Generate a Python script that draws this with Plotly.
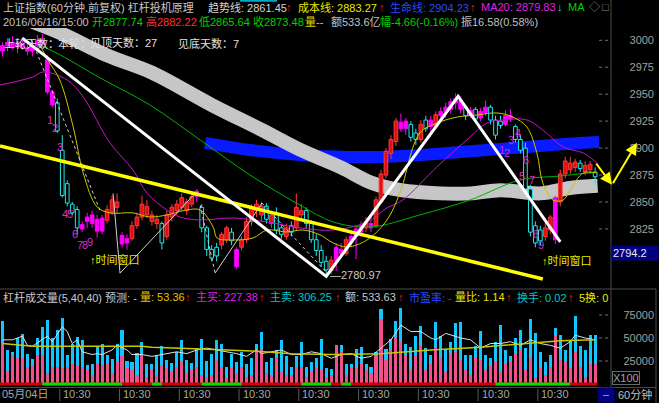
import plotly.graph_objects as go

W, H = 659, 403
FONT = "Liberation Sans, Noto Sans CJK SC, sans-serif"

# ---------------- DATA (60-minute bars) ----------------
bar_open = [2990, 2995, 2998, 2994, 2997, 2993, 2990, 2995, 3000, 2982,
            2952, 2942, 2898, 2867, 2848, 2843, 2829, 2832, 2838, 2834,
            2823, 2833, 2840, 2845, 2819, 2812, 2816, 2828, 2836, 2838,
            2832, 2830, 2830, 2818, 2836, 2842, 2845, 2842, 2848, 2855,
            2845, 2826, 2806, 2808, 2810, 2815, 2822, 2806, 2808, 2815,
            2832, 2842, 2838, 2846, 2830, 2840, 2826, 2818, 2828, 2826,
            2838, 2842, 2830, 2815, 2805, 2795, 2786, 2795, 2806, 2802,
            2812, 2818, 2822, 2826, 2830, 2828, 2850, 2875, 2895, 2906,
            2924, 2918, 2922, 2914, 2908, 2926, 2920, 2920, 2930, 2934,
            2936, 2942, 2944, 2938, 2930, 2936, 2928, 2933, 2938, 2926,
            2925, 2922, 2930, 2920, 2908, 2900, 2862, 2828, 2824, 2818,
            2824, 2815, 2850, 2876, 2880, 2882, 2886, 2878, 2880, 2877.74]
bar_high = [2998, 3002, 3004, 3000, 3003, 2999, 2997, 3005, 3006, 2986,
            2954, 2946, 2912, 2870, 2850, 2846, 2832, 2840, 2842, 2838,
            2838, 2847, 2856, 2858, 2822, 2820, 2832, 2840, 2856, 2852,
            2842, 2838, 2832, 2842, 2848, 2852, 2858, 2853, 2858, 2862,
            2848, 2828, 2810, 2812, 2822, 2828, 2826, 2808, 2818, 2836,
            2848, 2852, 2850, 2849, 2842, 2845, 2830, 2830, 2832, 2858,
            2848, 2845, 2833, 2820, 2810, 2800, 2800, 2812, 2812, 2818,
            2822, 2828, 2832, 2836, 2838, 2855, 2880, 2900, 2912, 2928,
            2932, 2928, 2925, 2918, 2926, 2930, 2930, 2934, 2938, 2942,
            2946, 2951, 2948, 2940, 2938, 2938, 2937, 2944, 2940, 2930,
            2930, 2935, 2936, 2922, 2912, 2905, 2866, 2832, 2828, 2832,
            2838, 2856, 2880, 2892, 2892, 2890, 2889, 2888, 2888, 2882.22]
bar_low = [2985, 2990, 2992, 2988, 2991, 2986, 2985, 2990, 2994, 2950,
           2938, 2914, 2854, 2846, 2838, 2820, 2822, 2826, 2826, 2817,
           2820, 2830, 2838, 2840, 2808, 2806, 2814, 2825, 2833, 2835,
           2828, 2825, 2806, 2815, 2832, 2838, 2842, 2838, 2845, 2850,
           2822, 2800, 2795, 2795, 2806, 2812, 2810, 2788, 2805, 2812,
           2828, 2836, 2832, 2830, 2826, 2820, 2816, 2815, 2818, 2824,
           2834, 2826, 2812, 2800, 2790, 2780.97, 2783, 2786, 2798, 2800,
           2808, 2797, 2818, 2822, 2822, 2826, 2848, 2872, 2890, 2902,
           2915, 2912, 2906, 2903, 2905, 2915, 2916, 2918, 2926, 2928,
           2932, 2936, 2932, 2926, 2928, 2924, 2925, 2930, 2922, 2908,
           2918, 2920, 2924, 2905, 2895, 2858, 2818, 2808, 2810, 2814,
           2820, 2811, 2846, 2872, 2876, 2878, 2878, 2875, 2876, 2865.64]
bar_close = [2995, 2998, 2994, 2997, 2993, 2990, 2995, 3000, 2996, 2952,
             2940, 2916, 2856, 2849, 2840, 2826, 2825, 2836, 2830, 2823,
             2835, 2843, 2852, 2850, 2811, 2816, 2828, 2836, 2848, 2846,
             2838, 2834, 2812, 2838, 2845, 2848, 2854, 2850, 2855, 2860,
             2826, 2806, 2798, 2800, 2820, 2826, 2814, 2790, 2815, 2832,
             2845, 2848, 2846, 2834, 2838, 2824, 2820, 2826, 2822, 2845,
             2842, 2830, 2815, 2805, 2794, 2787, 2796, 2808, 2802, 2815,
             2818, 2825, 2828, 2832, 2826, 2852, 2876, 2897, 2908, 2925,
             2918, 2925, 2910, 2908, 2922, 2918, 2926, 2931, 2934, 2938,
             2943, 2946, 2936, 2930, 2935, 2927, 2934, 2938, 2926, 2912,
             2921, 2930, 2927, 2908, 2898, 2862, 2822, 2812, 2814, 2826,
             2836, 2854, 2876, 2888, 2886, 2887, 2881, 2884, 2885, 2873.48]
magenta_bars = [0, 1, 2, 3, 4, 5, 6, 7, 8, 9, 10, 16, 17, 18, 19, 20, 24, 25, 39, 47,
                67, 68, 70, 71, 72, 74, 80, 81, 86, 88, 89, 90, 91, 92, 94, 96, 97,
                101, 102, 111]

# volume (thousands, x100 shares): total and active-buy part
vol_total_k = [68, 37, 35, 50, 54, 33, 27, 50, 62, 70, 50, 59, 72, 31, 44, 51, 48, 21, 22, 41,
               44, 31, 27, 44, 59, 25, 24, 34, 46, 22, 22, 30, 41, 26, 23, 35, 48, 26, 23, 39,
               49, 25, 33, 48, 44, 19, 33, 24, 35, 22, 28, 44, 56, 24, 28, 37, 48, 30, 18, 30,
               46, 19, 24, 28, 49, 17, 16, 42, 42, 22, 22, 38, 40, 22, 18, 35, 81, 38, 49, 69,
               83, 44, 40, 52, 63, 39, 32, 67, 52, 38, 46, 66, 67, 32, 32, 41, 58, 32, 28, 46,
               64, 37, 30, 50, 59, 39, 71, 55, 35, 24, 32, 61, 53, 37, 48, 74, 41, 37, 53, 53]
vol_buy_k = [44, 13, 31, 28, 28, 19, 21, 31, 31, 12, 19, 19, 17, 19, 22, 20, 19, 15, 10, 22,
             21, 22, 12, 24, 30, 17, 15, 10, 31, 8, 15, 10, 21, 17, 13, 19, 24, 12, 15, 19,
             10, 8, 10, 26, 19, 6, 17, 12, 19, 8, 10, 37, 37, 12, 10, 28, 13, 10, 10, 19,
             19, 8, 13, 17, 15, 8, 10, 41, 35, 10, 17, 17, 22, 15, 12, 30, 71, 26, 37, 50,
             46, 30, 15, 32, 42, 15, 22, 39, 28, 13, 33, 35, 26, 15, 10, 28, 26, 15, 20, 24,
             13, 22, 24, 33, 37, 15, 28, 6, 17, 10, 19, 52, 26, 24, 17, 35, 19, 8, 22, 22]
vol_ma5_x = [0, 2, 4, 5, 6, 8, 9, 10, 12, 13, 14, 15, 16, 18, 19, 20, 22, 23, 25, 26,
             28, 30, 32, 33, 35, 37, 39, 41, 43, 45, 47, 49, 51, 52, 54, 56, 58, 60, 62, 64,
             66, 68, 70, 72, 74, 76, 78, 80, 82, 84, 86, 87, 89, 92, 94, 96, 98, 100, 102, 104,
             106, 108, 110, 112, 114, 115, 117, 119]
vol_ma5_k = [48, 48, 52, 42, 41, 48, 52, 46, 62, 57, 44, 48, 35, 32, 33, 32, 37, 42, 37, 32,
             32, 30, 32, 33, 35, 33, 37, 39, 37, 35, 33, 30, 37, 33, 35, 37, 32, 32, 35, 33,
             28, 32, 33, 28, 30, 39, 48, 64, 57, 57, 50, 48, 55, 50, 48, 39, 44, 44, 46, 42,
             48, 44, 42, 39, 46, 53, 50, 48]
vol_ma40_x = [0, 6, 28, 30, 40, 50, 58, 66, 76, 86, 96, 106, 112, 119]
vol_ma40_k = [44, 41, 41, 40, 38, 36, 33, 32, 33, 37, 40, 44, 47, 48]
signal_green_spans = [[8, 24], [30, 32], [40, 48], [60, 66], [68, 70], [99, 114]]

# indicator lines (bar index, price)
trend_x = [5, 12, 21, 30, 42, 52, 60, 68, 74, 80, 88, 94, 100, 108, 114, 119.5]
trend_y = [3019, 3006, 2986, 2970, 2940, 2917, 2898, 2882, 2868, 2861, 2858, 2858, 2861, 2858, 2863, 2865]
life_x = [40.7, 49.7, 59.7, 69.8, 75.8, 83.8, 91.9, 99.9, 107.9, 116.0, 119.8]
life_y = [2904.8, 2898.2, 2893.6, 2891.8, 2891.8, 2893.6, 2896.4, 2899.2, 2902.0, 2904.8, 2905.7]
ma_long_x = [7.5, 11.6, 19.6, 29.6, 39.7, 49.7, 59.7, 66.4, 73.8, 83.8, 93.9, 103.9, 111.9, 119.4]
ma_long_y = [2995.6, 2986.4, 2965.1, 2940.0, 2907.5, 2875.0, 2847.2, 2831.5, 2826.8, 2838.0, 2851.9, 2870.4, 2874.1, 2877.8]
ma20_x = [-0.5, 6.1, 8.1, 13.0, 16.2, 21.6, 26.2, 29.0, 33.0, 35.6, 39.7, 46.3, 53.1, 59.7,
          66.4, 73.2, 77.2, 80.4, 87.2, 93.9, 97.3, 100.5, 105.3, 108.5, 112.6, 116.6, 119.4]
ma20_y = [2958.5, 2966.0, 2970.6, 2963.2, 2947.4, 2904.7, 2879.7, 2858.3, 2842.6, 2836.1, 2833.3,
          2835.2, 2831.5, 2826.0, 2824.0, 2831.5, 2844.5, 2851.9, 2882.5, 2910.3, 2923.3, 2926.1,
          2926.1, 2916.8, 2901.0, 2895.5, 2886.0]
ma_short_x = [7.5, 9.5, 11.5, 14.2, 16.2, 19.0, 21.6, 26.2, 29.6, 33.0, 37.0, 39.7, 42.3, 43.1,
              46.3, 50.3, 53.1, 57.1, 60.3, 63.8, 66.4, 69.2, 73.2, 77.2, 79.8, 83.8, 87.3, 91.3,
              95.3, 99.3, 102.5, 105.3, 107.3, 108.5, 110.5, 112.6, 114.0, 116.6, 119.4]
ma_short_y = [2995.6, 2978.9, 2963.2, 2919.6, 2876.9, 2845.4, 2839.9, 2839.9, 2836.1, 2838.0,
              2842.6, 2842.6, 2826.8, 2816.6, 2814.8, 2816.6, 2824.0, 2822.2, 2824.0, 2819.4,
              2812.0, 2808.3, 2814.8, 2833.3, 2858.3, 2914.0, 2923.3, 2928.8, 2930.7, 2932.6,
              2928.8, 2919.6, 2895.5, 2867.6, 2851.9, 2851.9, 2861.1, 2876.9, 2876.9]
zig_x = [4, 65, 91.5, 112]
zig_y = [3002, 2780.97, 2948, 2813]
thin_up_x = [22.2, 23.6, 38.7, None, 42.7, 52.1]
thin_up_y = [2858, 2784, 2858, None, 2784, 2849]
thin_down_x = [5.9, 19.6, None, 39.7, 42.7, None, 52.1, 65.2]
thin_down_y = [3000, 2842, None, 2847, 2784, None, 2849, 2784]
channel_x = [-0.5, 108.5]
channel_y = [2902, 2778.6]
proj_x = [119, 122.4, 127.4]
proj_y = [2887, 2866, 2905]
td_left_x = [9.5, 10.5, 11.5, 12.6, 13.6, 14.6, 15.6, 16.6, 17.6]
td_left_y = [2926, 2918.6, 2901, 2839, 2839, 2820.3, 2810.1, 2810.1, 2812.9]
td_right_x = [100.2, 101.3, 102.2, 103.5, 104.3, 105.1, 106.3, 107.1, 108.2]
td_right_y = [2898.2, 2895.1, 2907.5, 2914.3, 2874.1, 2889.0, 2870.4, 2820.7, 2810.1]
td_text = ["1", "2", "3", "4", "5", "6", "7", "8", "9"]

price_ticks = [3000, 2975, 2950, 2925, 2900, 2875, 2850, 2825]
vol_ticks = [25000, 50000, 75000]
date_tick_bars = [12, 24, 36, 48, 60, 72, 84, 96, 108]
date_tick_labels = ["10:30"] * 9
first_date_label = "05月04日"

# ---------------- geometry helpers ----------------
BAR_PX, X0 = 4.98, 2.5
x_range = [(0 - X0) / BAR_PX, (W - X0) / BAR_PX]
P_REF, P_REF_PX, PX_PER_PT = 3000, 40.3, 1.078
PRICE_TOP_PX, PRICE_BOT_PX = 28, 288
price_range = [P_REF - (PRICE_BOT_PX - P_REF_PX) / PX_PER_PT, P_REF + (P_REF_PX - PRICE_TOP_PX) / PX_PER_PT]
VOL_ZERO_PX, VOL_TOP_PX, VOL_BOT_PX, VOL_PX_PER_25K = 384, 300, 387, 23.0
vol_range = [-(VOL_BOT_PX - VOL_ZERO_PX) / VOL_PX_PER_25K * 25000, (VOL_ZERO_PX - VOL_TOP_PX) / VOL_PX_PER_25K * 25000]


def pyp(p):
    return 1 - p / H


n = len(bar_open)
idx = list(range(n))
MAG, RED_F, RED_L, CYAN = "#ff00ff", "#e01010", "#ff3a3a", "#20e8e8"

fig = go.Figure()

# bands (base subplot, under the candles); gray trend band over the blue life band
fig.add_trace(go.Scatter(x=life_x, y=life_y, mode="lines", line=dict(color="#0a1aff", width=12, shape="spline"),
                         xaxis="x", yaxis="y"))
fig.add_trace(go.Scatter(x=trend_x, y=trend_y, mode="lines", line=dict(color="#c6c6c6", width=14, shape="spline"),
                         xaxis="x", yaxis="y"))

# candles (overlay subplot)
fills, lines_c, bases, heights = [], [], [], []
groups = {"m": [], "r": [], "c": []}
for i in idx:
    o, c = bar_open[i], bar_close[i]
    if i in magenta_bars:
        f, l, g = MAG, MAG, "m"
    elif c >= o:
        f, l, g = RED_F, RED_L, "r"
    else:
        f, l, g = "#000000", CYAN, "c"
    fills.append(f)
    lines_c.append(l)
    groups[g].append(i)
    bases.append(min(o, c))
    heights.append(max(abs(c - o), 0.8))

for g, col in (("m", MAG), ("r", RED_L), ("c", CYAN)):
    xs, ys = [], []
    for i in groups[g]:
        top, bot = max(bar_open[i], bar_close[i]), min(bar_open[i], bar_close[i])
        xs += [i, i, None, i, i, None]
        ys += [bar_high[i], top, None, bot, bar_low[i], None]
    fig.add_trace(go.Scatter(x=xs, y=ys, mode="lines", line=dict(color=col, width=1), xaxis="x", yaxis="y3"))

fig.add_trace(go.Bar(x=idx, y=heights, base=bases, width=0.74, xaxis="x", yaxis="y3",
                     marker=dict(color=fills, line=dict(color=lines_c, width=1))))

# thin indicator lines
fig.add_trace(go.Scatter(x=ma_long_x, y=ma_long_y, mode="lines", line=dict(color="#00b400", width=1, shape="spline"), yaxis="y3"))
fig.add_trace(go.Scatter(x=ma20_x, y=ma20_y, mode="lines", line=dict(color="#c814c8", width=1, shape="spline"), yaxis="y3"))
fig.add_trace(go.Scatter(x=ma_short_x, y=ma_short_y, mode="lines", line=dict(color="#c8c800", width=1, shape="spline"), yaxis="y3"))
fig.add_trace(go.Scatter(x=thin_up_x, y=thin_up_y, mode="lines", line=dict(color="#d0d0d0", width=1), yaxis="y3"))
fig.add_trace(go.Scatter(x=thin_down_x, y=thin_down_y, mode="lines", line=dict(color="#d0d0d0", width=1, dash="dot"), yaxis="y3"))
# channel and zigzag
fig.add_trace(go.Scatter(x=channel_x, y=channel_y, mode="lines", line=dict(color="#ffff00", width=3.5), yaxis="y3"))
fig.add_trace(go.Scatter(x=zig_x, y=zig_y, mode="lines", line=dict(color="#ffffff", width=3), yaxis="y3"))

# dotted tick leaders at right of the price panel
dx, dy = [], []
for t in price_ticks:
    dx += [119.8, 122.1, None]
    dy += [t, t, None]
fig.add_trace(go.Scatter(x=dx, y=dy, mode="lines", line=dict(color="#707070", width=1, dash="dot"), yaxis="y3"))

# volume
vol_total = [v * 1000 for v in vol_total_k]
vol_buy = [v * 1000 for v in vol_buy_k]
fig.add_trace(go.Bar(x=idx, y=vol_total, width=0.62, marker=dict(color="#12c4ff", line=dict(width=0)), xaxis="x", yaxis="y2"))
fig.add_trace(go.Bar(x=idx, y=vol_buy, width=0.62, marker=dict(color="#f0508c", line=dict(width=0)), xaxis="x", yaxis="y2"))
fig.add_trace(go.Scatter(x=vol_ma5_x, y=[v * 1000 for v in vol_ma5_k], mode="lines",
                         line=dict(color="#e0e0e0", width=1), xaxis="x", yaxis="y2"))
fig.add_trace(go.Scatter(x=vol_ma40_x, y=[v * 1000 for v in vol_ma40_k], mode="lines",
                         line=dict(color="#c8c800", width=1.5), xaxis="x", yaxis="y2"))
fig.add_trace(go.Scatter(x=[-0.5, 119.5], y=[0, 0], mode="lines", line=dict(color="#d00000", width=3), xaxis="x", yaxis="y2"))
gx, gy = [], []
for a, b in signal_green_spans:
    gx += [a, b, None]
    gy += [0, 0, None]
fig.add_trace(go.Scatter(x=gx, y=gy, mode="lines", line=dict(color="#00e000", width=3), xaxis="x", yaxis="y2"))
vx, vy = [], []
for t in vol_ticks:
    vx += [119.8, 122.1, None]
    vy += [t, t, None]
fig.add_trace(go.Scatter(x=vx, y=vy, mode="lines", line=dict(color="#707070", width=1, dash="dot"), xaxis="x", yaxis="y2"))

axfont = dict(color="#a0a0a0", size=11, family=FONT)
fig.update_layout(
    width=W, height=H, margin=dict(l=0, r=0, t=0, b=0),
    paper_bgcolor="#000000", plot_bgcolor="#000000", showlegend=False,
    barmode="overlay", bargap=0,
    xaxis=dict(domain=[0, 1], range=x_range, visible=False, anchor="y2", fixedrange=True),
    yaxis=dict(domain=[pyp(PRICE_BOT_PX), pyp(PRICE_TOP_PX)], range=price_range, side="right",
               tickvals=price_ticks, ticklabelposition="inside", ticks="", tickfont=axfont,
               ticklabelstandoff=2, showgrid=False, zeroline=False, showline=False, anchor="x"),
    yaxis3=dict(overlaying="y", range=price_range, visible=False, anchor="x"),
    yaxis2=dict(domain=[pyp(VOL_BOT_PX), pyp(VOL_TOP_PX)], range=vol_range, side="right",
                tickvals=vol_ticks, tickformat="d", ticklabelposition="inside", ticks="", tickfont=axfont,
                ticklabelstandoff=2, showgrid=False, zeroline=False, showline=False, anchor="x"),
)

# separators
SEP = "#4a4a4a"
shapes = [
    dict(type="line", xref="paper", yref="paper", x0=611 / W, x1=611 / W, y0=0, y1=1, line=dict(color=SEP, width=1)),
    dict(type="line", xref="paper", yref="paper", x0=656 / W, x1=656 / W, y0=0, y1=pyp(289), line=dict(color=SEP, width=1)),
    dict(type="line", xref="paper", yref="paper", x0=0, x1=656 / W, y0=pyp(289), y1=pyp(289), line=dict(color=SEP, width=1)),
    dict(type="line", xref="paper", yref="paper", x0=0, x1=656 / W, y0=pyp(387.5), y1=pyp(387.5), line=dict(color=SEP, width=1)),
    dict(type="line", xref="paper", yref="paper", x0=240 / W, x1=277 / W, y0=pyp(0.8), y1=pyp(0.8), line=dict(color="#00a8c8", width=2)),
]
for b in date_tick_bars:
    shapes.append(dict(type="line", xref="x", yref="paper", x0=b - 0.5, x1=b - 0.5, y0=pyp(389), y1=pyp(401),
                       line=dict(color="#5a5a5a", width=1)))
fig.update_layout(shapes=shapes)

ann = []


def txt(x, y, s, color, size=11, **kw):
    d = dict(x=x / W, y=pyp(y), xref="paper", yref="paper", text=s, showarrow=False,
             font=dict(color=color, size=size, family=FONT), xanchor="left", yanchor="middle")
    d.update(kw)
    ann.append(d)


UP = "#ff2020"
# header row 1
txt(1, 7, "上证指数(60分钟.前复权) 杠杆投机原理", "#c8c8c8")
txt(206, 7, "趋势线: 2861.45", "#d4d4d4")
txt(284, 7, "↑", UP)
txt(296, 7, "成本线: 2883.27", "#e8e800")
txt(377, 7, "↑", UP)
txt(388, 7, "生命线: 2904.23", "#2a4aff")
txt(468, 7, "↑", UP)
txt(479, 7, "MA20: 2879.83", "#e020e0")
txt(555, 7, "↓", "#00e0e0")
txt(566, 7, "MA", "#00d000")
txt(587, 7, "◇", "#8a8a8a")
txt(600, 7, "□", "#8a8a8a")
# header row 2
txt(1, 22, "2016/06/16/15:00", "#c0c0c0")
txt(90, 22, "开2877.74", "#00d000")
txt(144, 22, "高2882.22", "#ff3030")
txt(197, 22, "低2865.64", "#00d000")
txt(251, 22, "收2873.48", "#00d000")
txt(303, 22, "量--", "#d8d800")
txt(329, 22, "额533.6亿", "#c0c0c0")
txt(378, 22, "幅-4.66(-0.16%)", "#00d000")
txt(459, 22, "振16.58(0.58%)", "#c0c0c0")
# header row 3
txt(2, 43, "上轮天数：", "#e0e0e0")
txt(56, 43, "本轮：", "#e0e0e0")
txt(88, 43, "见顶天数：27", "#e0e0e0")
txt(176, 43, "见底天数：7", "#e0e0e0")
# volume header
txt(1, 297, "杠杆成交量(5,40,40) 预测: -", "#c8c8c8")
txt(138, 297, "量: 53.36", "#e8c000")
txt(183, 297, "↑", UP)
txt(194, 297, "主买: 227.38", "#e020e0")
txt(257, 297, "↑", UP)
txt(268, 297, "主卖: 306.25", "#00c8c8")
txt(333, 297, "↑", UP)
txt(343, 297, "额: 533.63", "#c8c8c8")
txt(396, 297, "↑", UP)
txt(407, 297, "市盈率: -", "#2a4aff")
txt(453, 297, "量比: 1.14", "#e8e800")
txt(504, 297, "↑", UP)
txt(515, 297, "换手: 0.02", "#00c8c8")
txt(566, 297, "↑", UP)
txt(577, 297, "5换: 0", "#e8e800")
# right boxes
txt(611, 252.5, "2794.2", "#e8e8e8", bgcolor="#000080", width=44, align="left", borderpad=1)
txt(612, 378, "X100", "#a0a0a0", bordercolor="#6a6a6a", borderwidth=1, borderpad=0)
txt(597, 395, "--", "#e0e0e0", size=9, bgcolor="#000080", width=12, borderpad=2)
txt(616, 394, "60分钟", "#c0c0c0")
# date row
ann.append(dict(x=-0.5, y=pyp(394), xref="x", yref="paper", text=first_date_label, showarrow=False,
                font=dict(color="#a8a8a8", size=11, family=FONT), xanchor="left", yanchor="middle"))
for b, s in zip(date_tick_bars, date_tick_labels):
    ann.append(dict(x=b - 0.2, y=pyp(394), xref="x", yref="paper", text=s, showarrow=False,
                    font=dict(color="#a8a8a8", size=11, family=FONT), xanchor="left", yanchor="middle"))

# TD counts and labels in the price panel
for xs, ys in ((td_left_x, td_left_y), (td_right_x, td_right_y)):
    for x, y, s in zip(xs, ys, td_text):
        ann.append(dict(x=x, y=y, xref="x", yref="y", text=s, showarrow=False,
                        font=dict(color="#d030d0", size=11, family=FONT), xanchor="center", yanchor="middle"))
for x, y in ((17.2, 2797), (107.9, 2796)):
    ann.append(dict(x=x, y=y, xref="x", yref="y", text="↑时间窗口", showarrow=False,
                    font=dict(color="#e8e800", size=11, family=FONT), xanchor="left", yanchor="middle"))
ann.append(dict(x=65.4, y=bar_low[65] + 1, xref="x", yref="y", text="—2780.97", showarrow=False,
                font=dict(color="#c8c8c8", size=11, family=FONT), xanchor="left", yanchor="middle"))

# projection arrows
for k in range(len(proj_x) - 1):
    ann.append(dict(x=proj_x[k + 1], y=proj_y[k + 1], ax=proj_x[k], ay=proj_y[k], xref="x", yref="y",
                    axref="x", ayref="y", text="", showarrow=True, arrowhead=2, arrowsize=1.2,
                    arrowwidth=2, arrowcolor="#ffff00"))

fig.update_layout(annotations=ann)
fig.write_html("out.html", config={"displayModeBar": False, "staticPlot": True},
               post_script="document.body.style.margin='0px';document.body.style.overflow='hidden';")
